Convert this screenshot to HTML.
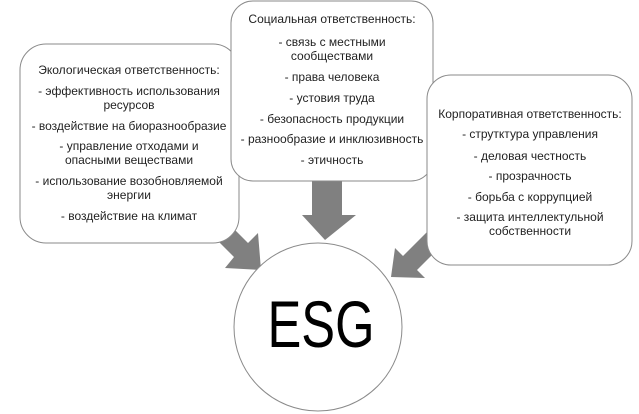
<!DOCTYPE html>
<html><head><meta charset="utf-8"><style>
html,body{margin:0;padding:0;background:#fff;}
svg{display:block;}
text{font-family:"Liberation Sans","DejaVu Sans",sans-serif;fill:#222;}
</style></head><body>
<svg width="639" height="414" viewBox="0 0 639 414" xmlns="http://www.w3.org/2000/svg">
<g fill="#808080">
  <polygon points="312,175 342,175 342,215 356,215 325,240 302,215 312,215"/>
  <polygon points="206,229 220,215 248,243 258,233 261,270 225,268 234,257"/>
  <polygon points="431,228 445,242 417,270 425,278 391,277 395,248 403,256"/>
</g>
<rect x="20" y="44" width="219" height="199" rx="26" fill="#fff" stroke="#8a8a8a" stroke-width="1"/>
<rect x="231" y="1" width="202" height="180" rx="22" fill="#fff" stroke="#8a8a8a" stroke-width="1"/>
<rect x="427" y="75" width="205" height="190" rx="24" fill="#fff" stroke="#8a8a8a" stroke-width="1"/>
<circle cx="318" cy="327" r="84" fill="#fff" stroke="#8a8a8a" stroke-width="1"/>
<text x="321" y="347" font-size="66" text-anchor="middle" textLength="107" lengthAdjust="spacingAndGlyphs" style="fill:#000">ESG</text>
<g font-size="12" text-anchor="middle">
  <text x="129" y="74">Экологическая ответственность:</text>
  <text x="129" y="95">- эффективность использования</text>
  <text x="129" y="109">ресурсов</text>
  <text x="129" y="130">- воздействие на биоразнообразие</text>
  <text x="129" y="150">- управление отходами и</text>
  <text x="129" y="164">опасными веществами</text>
  <text x="129" y="185">- использование возобновляемой</text>
  <text x="129" y="199">энергии</text>
  <text x="129" y="220">- воздействие на климат</text>

  <text x="332" y="23">Социальная ответственность:</text>
  <text x="332" y="46">- связь с местными</text>
  <text x="332" y="60">сообществами</text>
  <text x="332" y="81">- права человека</text>
  <text x="332" y="102">- устовия труда</text>
  <text x="332" y="123">- безопасность продукции</text>
  <text x="332" y="143">- разнообразие и инклюзивность</text>
  <text x="332" y="164">- этичность</text>

  <text x="530" y="118">Корпоративная ответственность:</text>
  <text x="530" y="138">- струтктура управления</text>
  <text x="530" y="160">- деловая честность</text>
  <text x="530" y="180">- прозрачность</text>
  <text x="530" y="201">- борьба с коррупцией</text>
  <text x="530" y="221">- защита интеллектульной</text>
  <text x="530" y="235">собственности</text>
</g>
</svg>
</body></html>
